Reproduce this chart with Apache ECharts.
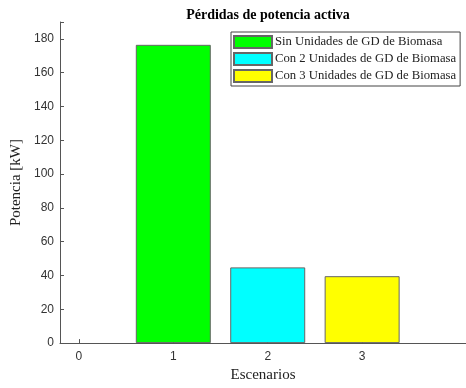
<!DOCTYPE html>
<html>
<head>
<meta charset="utf-8">
<script src="https://cdn.jsdelivr.net/npm/echarts@6/dist/echarts.min.js"></script>
<style>
  html, body { margin: 0; padding: 0; background: #fff; }
  #main { width: 466px; height: 388px; }
</style>
</head>
<body>
<div id="main"></div>
<script>
// escenarios y pérdidas (kW)
const escenarios = [1, 2, 3];
const perdidas = [176.5, 44.8, 39.6];
const nombres = [
  'Sin Unidades de GD de Biomasa',
  'Con 2 Unidades de GD de Biomasa',
  'Con 3 Unidades de GD de Biomasa'
];
const colores = ['#00ff00', '#00ffff', '#ffff00'];
const xTicks = [0, 1, 2, 3];

const serif = 'Liberation Serif, Times New Roman, serif';
const sans = 'Liberation Sans, Arial, sans-serif';

const chart = echarts.init(document.getElementById('main'), null, {renderer: 'canvas'});

const series = escenarios.map((x, i) => ({
  name: nombres[i],
  type: 'bar',
  barWidth: 75,
  barGap: '-100%',
  data: [[x, perdidas[i]]],
  itemStyle: { color: colores[i], borderColor: '#666', borderWidth: 1 },
  emphasis: { disabled: true },
  z: 1
}));

chart.setOption({
  animation: false,
  title: {
    text: 'Pérdidas de potencia activa',
    left: 263, textAlign: 'center', top: 3,
    textStyle: { fontFamily: serif, fontSize: 14, fontWeight: 'bold', color: '#000' }
  },
  legend: {
    orient: 'vertical',
    left: 231, top: 32,
    itemWidth: 38, itemHeight: 12,
    itemGap: 3,
    padding: [3, 4, 3, 2],
    backgroundColor: '#fff',
    borderColor: '#444', borderWidth: 1,
    icon: 'rect',
    textStyle: { fontFamily: serif, fontSize: 12.7, color: '#222', padding: [0, 0, 0, -2] },
    data: nombres
  },
  grid: { left: 60, right: 0, top: 22, bottom: 41, containLabel: false },
  xAxis: {
    type: 'value',
    min: -0.2, max: 4.1,
    interval: 1,
    name: 'Escenarios',
    nameLocation: 'middle',
    nameGap: 23,
    nameTextStyle: { fontFamily: serif, fontSize: 15, color: '#222' },
    axisLine: { onZero: false, lineStyle: { color: '#555', width: 1 } },
    axisTick: { inside: true, length: 4, customValues: xTicks, lineStyle: { color: '#555' } },
    axisLabel: { customValues: xTicks, fontFamily: sans, fontSize: 12, color: '#333', margin: 8 },
    splitLine: { show: false }
  },
  yAxis: {
    type: 'value',
    min: 0, max: 190,
    interval: 20,
    name: 'Potencia [kW]',
    nameLocation: 'middle',
    nameGap: 31,
    nameTextStyle: { fontFamily: serif, fontSize: 15, color: '#222' },
    axisLine: { show: true, onZero: false, lineStyle: { color: '#555', width: 1 } },
    axisTick: { show: true, inside: true, length: 4, lineStyle: { color: '#555' } },
    axisLabel: { fontFamily: sans, fontSize: 12, color: '#333', margin: 6,
      formatter: v => (v % 20 === 0 ? String(v) : '') },
    splitLine: { show: false }
  },
  series: series
});
</script>
</body>
</html>
